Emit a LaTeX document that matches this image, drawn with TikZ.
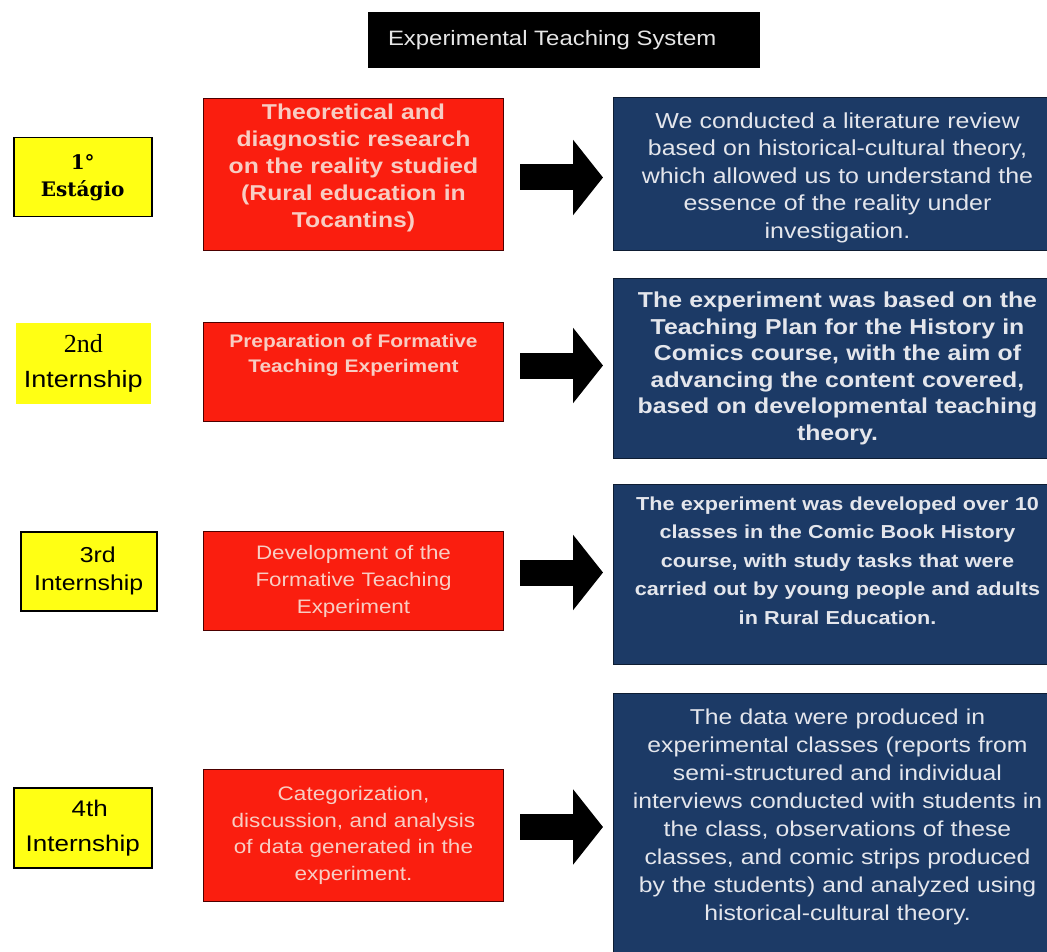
\documentclass[tikz,border=0pt]{standalone}
\usepackage{fontspec}
\setmainfont{Liberation Sans}
\newfontfamily\wsans[FakeStretch=1.15]{Liberation Sans}
\newfontfamily\slabserif{DejaVu Serif}
\newfontfamily\tserif{Liberation Serif}
\usetikzlibrary{arrows.meta,calc}
\definecolor{boxred}{RGB}{250,30,15}
\definecolor{redtext}{RGB}{248,205,195}
\definecolor{navy}{RGB}{28,58,102}
\definecolor{navytext}{RGB}{228,230,236}
\definecolor{titletext}{RGB}{230,230,230}
\definecolor{stageyellow}{RGB}{255,255,20}
\tikzset{
  titlebox/.style={fill=black, anchor=north west, minimum width=392pt, minimum height=56pt, inner sep=0pt, text=titletext, font={\wsans\fontsize{20.8}{24}\selectfont}},
  stagebox/.style={fill=stageyellow, draw=black, line width=1.5pt, anchor=north west, inner sep=0pt, align=center, text=black},
  redbox/.style={fill=boxred, draw=red!30!black, line width=1pt, anchor=north west, minimum width=300pt, inner sep=0pt, text width=292pt, align=center, text=redtext},
  navybox/.style={fill=navy, draw=navy!50!black, line width=1pt, anchor=north west, minimum width=448pt, inner sep=0pt, text width=430pt, align=center, text=navytext},
  bigarrow/.style={line width=26pt, -{Triangle[length=30pt,width=74pt]}, black}
}
\begin{document}
\begin{tikzpicture}[x=1pt,y=-1pt]
\useasboundingbox (0,0) rectangle (1047,952);
\fill[white] (0,0) rectangle (1047,952);

\node[titlebox] (title) at (368,12) {Experimental Teaching System\hspace*{24pt}};

% stage labels
\node[stagebox, minimum width=138pt, minimum height=79pt, font={\slabserif\bfseries\fontsize{20}{27}\selectfont}] (y1) at (13,137) {1°\\Estágio};
\node[stagebox, draw=none, minimum width=135pt, minimum height=81pt, font={\fontsize{23.5}{35}\selectfont}] (y2) at (15,322)
  {{\tserif\fontsize{26}{35}\selectfont 2nd}\\{\wsans\fontsize{23.5}{35}\selectfont Internship}};
\node[stagebox, minimum width=136pt, minimum height=79pt, font={\wsans\fontsize{21.6}{28}\selectfont}] (y3) at (20,531) {\hspace*{18pt}3rd\\Internship};
\node[stagebox, minimum width=138pt, minimum height=80pt, font={\wsans\fontsize{22.6}{35}\selectfont}] (y4) at (13,787) {\hspace*{14pt}4th\\Internship};

% red boxes
\node[redbox, minimum height=152pt, font={\wsans\bfseries\fontsize{21.5}{27}\selectfont}] (r1) at (203,98)
  {Theoretical and\\diagnostic research\\on the reality studied\\(Rural education in\\Tocantins)\\[-10pt]\mbox{}};
\node[redbox, minimum height=99pt, font={\wsans\bfseries\fontsize{18.2}{25}\selectfont}] (r2) at (203,322)
  {Preparation of Formative\\Teaching Experiment\\[13pt]\mbox{}};
\node[redbox, minimum height=99pt, font={\wsans\fontsize{19.5}{27}\selectfont}] (r3) at (203,531)
  {Development of the\\Formative Teaching\\Experiment};
\node[redbox, minimum height=132pt, font={\wsans\fontsize{19.6}{26.5}\selectfont}] (r4) at (203,769)
  {Categorization,\\discussion, and analysis\\of data generated in the\\experiment.};

% navy boxes
\node[navybox, minimum height=153pt, font={\wsans\fontsize{21.7}{27.5}\selectfont}] (n1) at (613,97)
  {\mbox{}\\[-4.5pt]We conducted a literature review\\based on historical-cultural theory,\\which allowed us to understand the\\essence of the reality under\\investigation.};
\node[navybox, minimum height=180pt, font={\wsans\bfseries\fontsize{21.6}{26.5}\selectfont}] (n2) at (613,278)
  {The experiment was based on the\\Teaching Plan for the History in\\Comics course, with the aim of\\advancing the content covered,\\based on developmental teaching\\theory.};
\node[navybox, minimum height=180pt, font={\wsans\bfseries\fontsize{18.8}{28.5}\selectfont}] (n3) at (613,484)
  {The experiment was developed over 10\\classes in the Comic Book History\\course, with study tasks that were\\carried out by young people and adults\\in Rural Education.\\\mbox{}};
\node[navybox, minimum height=262pt, font={\wsans\fontsize{21.5}{28}\selectfont}] (n4) at (613,693)
  {The data were produced in\\experimental classes (reports from\\semi-structured and individual\\interviews conducted with students in\\the class, observations of these\\classes, and comic strips produced\\by the students) and analyzed using\\historical-cultural theory.\\[-8pt]\mbox{}};

% arrows
\coordinate (a1s) at ($(r1.east)+(16,3)$);
\coordinate (a1e) at ($(n1.west|-a1s)+(-10,0)$);
\coordinate (a2s) at ($(r2.east)+(16,-6.5)$);
\coordinate (a2e) at ($(n2.west|-a2s)+(-10,0)$);
\coordinate (a3s) at ($(r3.east)+(16,-8.5)$);
\coordinate (a3e) at ($(n3.west|-a3s)+(-10,0)$);
\coordinate (a4s) at ($(r4.east)+(16,-8.5)$);
\coordinate (a4e) at ($(n4.west|-a4s)+(-10,0)$);
\draw[bigarrow] (a1s) -- (a1e);
\draw[bigarrow] (a2s) -- (a2e);
\draw[bigarrow] (a3s) -- (a3e);
\draw[bigarrow] (a4s) -- (a4e);
\end{tikzpicture}
\end{document}
